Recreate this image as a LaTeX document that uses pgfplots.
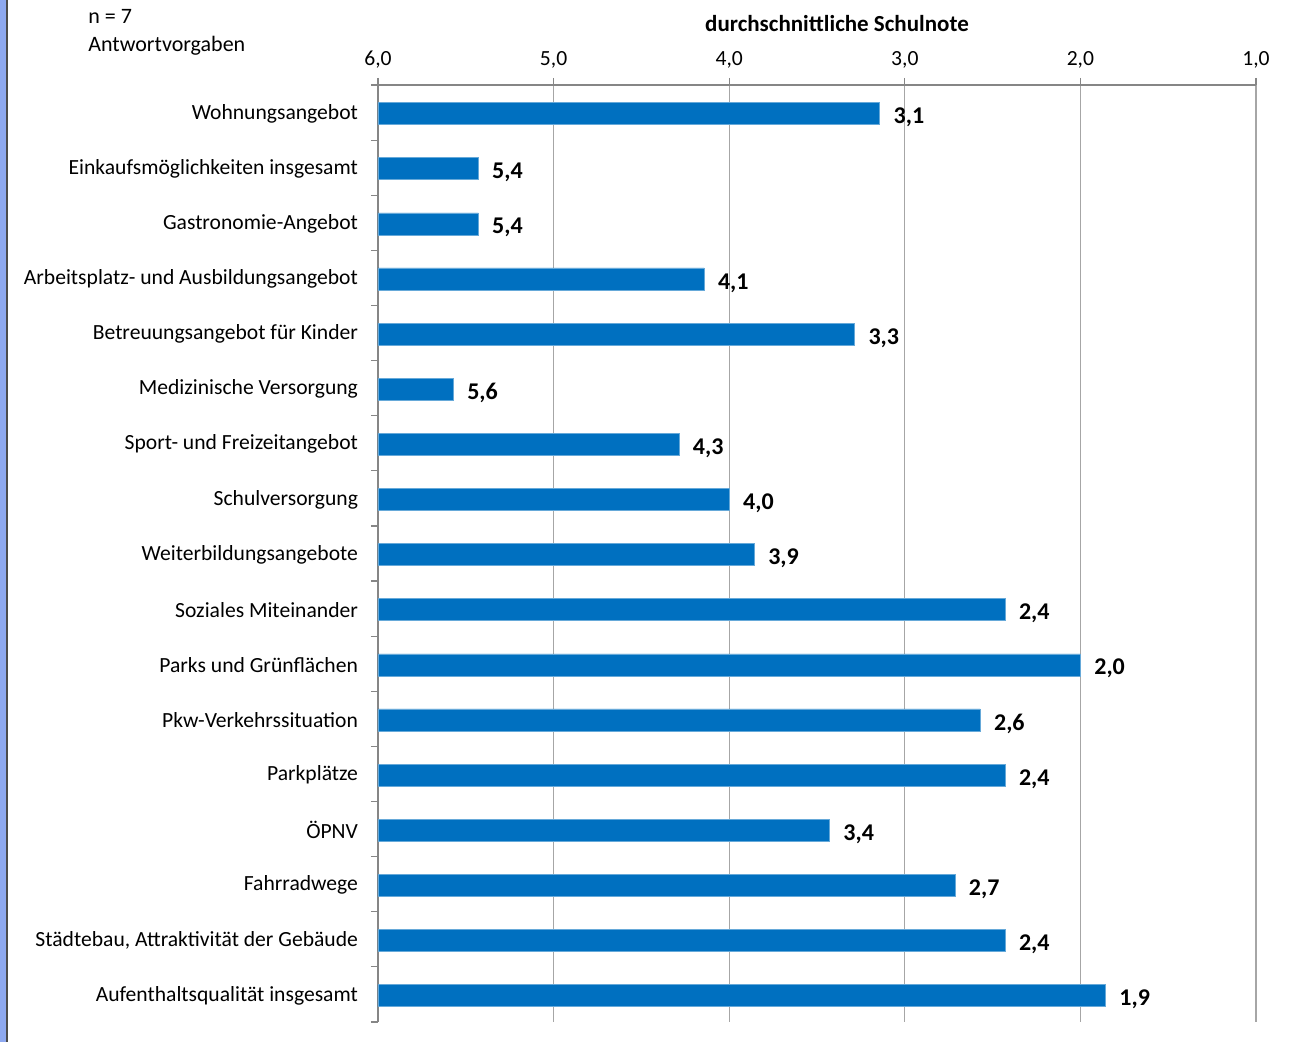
\documentclass[border=0pt]{standalone}
\usepackage{pgfplots}
\usepackage{pgfplotstable}
\pgfplotsset{compat=1.18}
\usepackage{fontspec}
\setmainfont{Carlito}
\definecolor{barblue}{HTML}{0070C0}
\definecolor{gridgray}{HTML}{A6A6A6}
\definecolor{axgray}{HTML}{868686}
\definecolor{borderblue}{HTML}{8EA9F0}

\pgfplotstableread{
y v lab
17 3.143 3,1
16 5.429 5,4
15 5.429 5,4
14 4.143 4,1
13 3.286 3,3
12 5.571 5,6
11 4.286 4,3
10 4.000 4,0
9 3.857 3,9
8 2.429 2,4
7 2.000 2,0
6 2.571 2,6
5 2.429 2,4
4 3.429 3,4
3 2.714 2,7
2 2.429 2,4
1 1.857 1,9
}\data

\begin{document}
\begin{tikzpicture}
\useasboundingbox (-189pt,-10pt) rectangle (456pt,511pt);
\fill[borderblue] (-189pt,-10pt) rectangle (-186pt,511pt);
\draw[black!70, line width=0.8pt] (-185.6pt,-10pt) -- (-185.6pt,511pt);
\node[anchor=west, font=\fontsize{11}{13}\selectfont, inner sep=0pt] at (-145pt,503pt) {n = 7};
\node[anchor=west, font=\fontsize{11}{13}\selectfont, inner sep=0pt] at (-145pt,488pt) {Antwortvorgaben};
\begin{axis}[
  at={(0,0)}, anchor=origin,
  scale only axis,
  width=439pt, height=468.5pt,
  xmin=0, xmax=5, ymin=0.5, ymax=17.5,
  axis x line*=top, axis y line*=left,
  axis line style={axgray, line width=0.6pt},
  x axis line style={-}, y axis line style={-},
  xtick={0,1,2,3,4,5},
  xticklabels={{6,0},{5,0},{4,0},{3,0},{2,0},{1,0}},
  xticklabel style={font=\fontsize{10.8}{12}\selectfont, yshift=1.5pt},
  xmajorgrids, grid style={gridgray, line width=0.6pt},
  major x tick style={axgray, line width=0.6pt},
  tick align=outside,
  major tick length=3.5pt,
  xlabel={\textbf{durchschnittliche Schulnote}},
  xlabel style={font=\fontsize{11.5}{13}\selectfont, xshift=10pt, yshift=2.5pt},
  ytick={1,...,17},
  yticklabels={Aufenthaltsqualität insgesamt,{Städtebau, Attraktivität der Gebäude},Fahrradwege,ÖPNV,Parkplätze,Pkw-Verkehrssituation,Parks und Grünflächen,Soziales Miteinander,Weiterbildungsangebote,Schulversorgung,Sport- und Freizeitangebot,Medizinische Versorgung,Betreuungsangebot für Kinder,Arbeitsplatz- und Ausbildungsangebot,Gastronomie-Angebot,Einkaufsmöglichkeiten insgesamt,Wohnungsangebot},
  yticklabel style={font=\fontsize{10.8}{12}\selectfont, xshift=-3pt, yshift=-0.5pt},
  major y tick style={draw=none},
  minor ytick={0.5,1.5,...,17.5},
  minor y tick style={axgray, line width=0.6pt},
  minor tick length=3.5pt,
  clip=false,
]
\addplot[xbar, bar width=0.4, bar shift=-0.02, fill=barblue, draw=barblue!60!white, line width=0.3pt,
  point meta=explicit symbolic,
  nodes near coords,
  every node near coord/.append style={font=\bfseries\fontsize{12}{14}\selectfont, anchor=west, xshift=3.5pt, yshift=-2.5pt, text=black}]
  table[x expr=6-\thisrow{v}, y=y, meta=lab] {\data};
\end{axis}
\end{tikzpicture}
\end{document}
